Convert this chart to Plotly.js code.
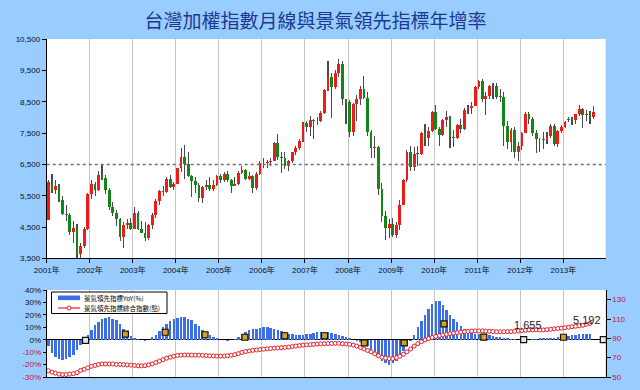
<!DOCTYPE html>
<html><head><meta charset="utf-8">
<script src="https://cdn.plot.ly/plotly-3.0.1.min.js"></script>
<style>html,body{margin:0;padding:0;background:#99CCFF;}#chart{width:640px;height:390px;}</style>
</head><body><div id="chart"></div>
<script>
// ---------- DATA ----------
const startYear = 2001;
const yearLabels = ['2001年','2002年','2003年','2004年','2005年','2006年','2007年','2008年','2009年','2010年','2011年','2012年','2013年'];
const priceTicks = [3500,4500,5500,6500,7500,8500,9500,10500];
const rightTicks = [35,45,55,65,75,85,95,105];
const pctTicks = [-30,-20,-10,0,10,20,30,40];
const pctTickLabels = ['-30%','-20%','-10%','0%','10%','20%','30%','40%'];
const indexTicks = [50,70,90,110,130];
const thresholdLevel = 6500;
const seriesNames = ['景氣領先指標YoY(%)','景氣領先指標綜合指數(點)'];

const openPx = [
 4739,5936,5674,5797,5381,4935,4883,4352,4476,3636,3903,4441,
 5551,5872,5696,6167,6065,5675,5153,4940,4764,4191,4579,4646,
 4452,4941,4432,4321,4148,4555,4872,5318,5650,5611,6045,5771,
 5890,6375,6750,6522,6117,5977,5840,5420,5766,5845,5706,5844,
 6140,5994,6207,6006,5819,5866,6241,6312,6033,6119,5764,6203,
 6548,6532,6562,6613,7171,6730,6704,6455,6611,6883,7021,7247,
 7823,7699,7901,7884,7875,8145,8883,9287,8982,9411,9711,8586,
 8506,7521,8412,8572,8920,8620,7523,7024,7046,5719,4870,4460,
 4591,4248,4557,5211,5993,6890,6432,6829,6826,7509,7340,7582,
 8188,7640,7436,7920,8004,7374,7329,7761,7616,8238,8287,8372,
 8973,9145,8600,8683,9008,8988,8653,8644,7741,7225,7588,6904,
 7072,7517,8121,7933,7501,7301,7296,7270,7398,7715,7166,7580,
 7700,7950,7970,7919,8094,8254,8062,8108,7999];
const highPx = [
 6000,6210,6000,5860,5500,5200,4950,4700,4600,4000,4500,5600,
 6000,5950,6300,6484,6150,5750,5300,5050,4800,4650,4750,4800,
 5140,5000,4700,4650,4600,4950,5400,5700,5800,6100,6150,5950,
 6400,7035,7135,6900,6150,6100,5900,5800,6000,6100,6000,6150,
 6200,6250,6300,6050,6100,6300,6450,6350,6250,6150,6250,6600,
 6700,6650,6700,7200,7474,6900,6900,6650,6900,7100,7300,7850,
 7900,8030,7950,8000,8200,8900,9807,9400,9500,9859,9800,8600,
 8550,8450,8700,9000,9309,8800,7600,7400,7100,5900,5000,4750,
 4800,4650,5350,6050,6950,7085,7050,7100,7550,7800,7700,8200,
 8395,7700,7950,8190,8050,7600,7800,7950,8300,8400,8500,9000,
 9200,9220,8800,9040,9090,9100,8900,8800,7900,7650,7700,7200,
 7550,8170,8170,8000,7600,7350,7550,7550,7800,7800,7600,7750,
 7900,8000,8000,8100,8400,8300,8250,8200,8350];
const lowPx = [
 4720,5600,5550,5300,4900,4700,4250,4000,3411,3446,3850,4400,
 5400,5500,5650,6000,5550,5050,4850,4550,4050,3845,4450,4400,
 4430,4400,4300,4044,4100,4450,4800,5200,5500,5600,5750,5700,
 5880,6250,6020,6100,5450,5600,5300,5255,5700,5650,5650,5800,
 5900,5950,5950,5600,5800,5850,6200,6000,6000,5600,5700,6150,
 6400,6400,6450,6600,6650,6232,6350,6300,6550,6800,6950,7200,
 7550,7400,7300,7750,7850,8100,8850,7987,8900,9300,8400,7800,
 7384,7400,7900,8400,8600,7400,6700,6700,5530,4650,4089,4150,
 4200,4164,4400,5200,5950,6300,6300,6450,6800,7100,7100,7550,
 7600,7080,7400,7700,7030,7070,7300,7500,7600,8100,8100,8350,
 8900,8500,8070,8600,8600,8600,8500,7100,7000,6900,6700,6609,
 6960,7500,7800,7400,6860,6900,7000,7150,7350,7100,7050,7500,
 7650,7850,7760,7800,8050,7650,7900,7800,7950];
const closePx = [
 5936,5674,5797,5381,4935,4883,4352,4476,3636,3903,4441,5551,
 5872,5696,6167,6065,5675,5153,4940,4764,4191,4579,4646,4452,
 4941,4432,4321,4148,4555,4872,5318,5650,5611,6045,5771,5890,
 6375,6750,6522,6117,5977,5840,5420,5766,5845,5706,5844,6140,
 5994,6207,6006,5819,5866,6241,6312,6033,6119,5764,6203,6548,
 6532,6562,6613,7171,6730,6704,6455,6611,6883,7021,7247,7823,
 7699,7901,7884,7875,8145,8883,9287,8982,9411,9711,8586,8506,
 7521,8412,8572,8920,8620,7523,7024,7046,5719,4870,4460,4591,
 4248,4557,5211,5993,6890,6432,6829,6826,7509,7340,7582,8188,
 7640,7436,7920,8004,7374,7329,7761,7616,8238,8287,8372,8973,
 9145,8600,8683,9008,8988,8653,8644,7741,7225,7588,6904,7072,
 7517,8121,7933,7501,7301,7296,7270,7398,7715,7166,7580,7700,
 7850,7907,7919,8094,8254,8062,8108,7999,8174];

// 景氣領先指標 YoY (%), Jan 2001 - Aug 2013
const leadYoY = [
 -5,-11,-14,-15.5,-16,-15.5,-14,-12,-8,-4,-1,4,
 8,12,14,16.5,17.5,18,17,15.5,13,9,5,3,
 1.5,0.5,-0.5,-1,-0.5,2,4,7,10,13,15,16.5,
 17.5,18,18,17,15.5,13,11,8,6,4,2,1,
 0,-0.5,-1,-0.5,0.5,2,4,6,7.5,8.5,9,9.5,
 10,10,9.5,9,8,7,6,5,4.5,4,4,4,
 4.5,5,5.5,6,6.5,6.5,6,5.5,5,4,3,2,
 1,0,-1,-2,-3,-5,-8,-11,-14,-17,-19,-20,
 -19,-17,-13,-9,-5,-1,4,10,15,20,25,29,
 31.5,31,28,24,20,17,14,11,9,7,6,5,
 5,4.5,4,3.5,3,2.5,2,1.5,1,0.5,0.3,0,
 0,0,0,0.5,0.5,1,1,1,1.5,1.5,2,2.5,
 3,3,3.5,4,4.5,5,5,5];
// 景氣領先指標綜合指數 (點), Jan 2001 - Aug 2013
const leadIndex = [
 56.5,55,54,53,52.5,52.5,53,53.5,54.5,56.8,58,59.5,
 61,62,63,63.5,63.5,63.5,63.5,63,63,62.8,62.5,62.3,
 62,61.6,61.5,61.8,62.5,63.5,65,66.5,68,69.5,70.5,71.5,
 72.3,72.6,72.8,72.8,72.7,72.6,72.6,72.4,72.2,72,71.8,71.6,
 71.6,71.7,72,72.5,73.2,74.2,75.4,76.3,77,77.6,78,78.4,
 78.8,79.2,79.5,79.8,80,80.3,80.6,81,81.5,82,82.5,83,
 83.2,83.5,83.8,84.1,84.3,84.5,84.6,84.7,84.8,84.8,84.5,84.2,
 83.8,83,82,80.5,79,77.5,76,74,72,70.5,69.5,69,
 69,70,71.5,73.5,76,79,82,84.5,86.5,88.3,89.8,91,
 92,92.8,93.5,94.2,94.8,95.4,95.9,96.4,96.8,97.2,97.5,97.7,
 97.7,97.7,97.5,97.3,97.1,96.9,96.8,96.8,96.9,97,97.2,97.6,
 98,98.4,98.7,98.8,98.8,98.7,98.7,99,99.4,99.8,100.2,100.5,
 101,101.5,102,102.5,103,103.5,104.5,105.5];
// small marker series (values in %)
const markerVals = [-4.6,-0.5,4.5,6,4,2,3.2,3.2,-2.6,-2.6,12.8,2.1,0,2,0];
const noteTexts = ['1,655','5,192'];
const noteIdx = [12.1,13.6];
const noteVals = [12,15.5];

// ---------- BUILD ----------
const DAY = 86400000;
const dates = closePx.map((_, i) => {
  const y = startYear + Math.floor(i / 12), m = i % 12 + 1;
  return y + '-' + String(m).padStart(2, '0') + '-15';
});
const yearTicks = yearLabels.map((_, i) => (startYear + i) + '-01-01');
const leadDates = dates.slice(0, leadYoY.length);
const BLUE = '#3C6EEA', RED = '#E3202A';

const wick = {type:'bar', x:dates, base:lowPx, y:highPx.map((h,i)=>h-lowPx[i]),
  width:9*DAY, marker:{color:'#4a4a4a', line:{width:0}}, xaxis:'x', yaxis:'y',
  showlegend:false, hoverinfo:'skip'};
const body = {type:'bar', x:dates,
  base:openPx.map((o,i)=>Math.min(o,closePx[i])),
  y:openPx.map((o,i)=>Math.max(Math.abs(closePx[i]-o),25)),
  width:23*DAY, marker:{color:openPx.map((o,i)=>closePx[i]>=o?'#EE1B1B':'#13861A'), line:{width:0}},
  xaxis:'x', yaxis:'y', showlegend:false, hoverinfo:'skip'};
const yoy = {type:'bar', x:leadDates, y:leadYoY, width:21*DAY, name:seriesNames[0],
  marker:{color:BLUE, line:{width:0}}, xaxis:'x2', yaxis:'y3', showlegend:false};
const idx = {type:'scatter', mode:'lines+markers', x:leadDates, y:leadIndex, name:seriesNames[1],
  line:{color:RED, width:1.2}, marker:{symbol:'circle', size:4, color:'#FFFFFF', line:{color:RED, width:1}},
  xaxis:'x2', yaxis:'y4', showlegend:false};
const darkSet = [1,12,14];
const marks = {type:'scatter', mode:'markers', x:markerVals.map((_,k)=>k), y:markerVals,
  marker:{symbol:'square', size:6, color:markerVals.map((_,k)=>darkSet.includes(k)?'#E8E8E8':'#D9A21E'),
    line:{color:'#111', width:1.2}}, xaxis:'x3', yaxis:'y3', showlegend:false, cliponaxis:false, hoverinfo:'skip'};

const px = v => v / 640, py = v => 1 - v / 390;
const xDom = [0.073, 0.9464];
const axLine = {showline:true, linecolor:'#000', linewidth:1, zeroline:false, showgrid:false, ticks:'outside', tickcolor:'#000'};

// custom compact legend (box + swatches + labels)
const row1 = 297.8, row2 = 308;
const legendShapes = [
  {type:'rect', xref:'paper', yref:'paper', x0:px(51.5), x1:px(167), y0:py(313.5), y1:py(292),
   fillcolor:'#FFFFFF', line:{color:'#000', width:1}},
  {type:'rect', xref:'paper', yref:'paper', x0:px(58), x1:px(80), y0:py(row1+2.3), y1:py(row1-2.3),
   fillcolor:BLUE, line:{width:0}},
  {type:'line', xref:'paper', yref:'paper', x0:px(58), x1:px(80), y0:py(row2), y1:py(row2),
   line:{color:RED, width:1.2}},
  {type:'circle', xref:'paper', yref:'paper', x0:px(67), x1:px(71), y0:py(row2+2), y1:py(row2-2),
   fillcolor:'#FFFFFF', line:{color:RED, width:1}}
];
const legendNotes = seriesNames.map((t,i)=>({text:t, xref:'paper', yref:'paper', x:px(81.5), y:py(i===0?row1:row2),
  xanchor:'left', yanchor:'middle', showarrow:false, font:{size:6.5, color:'#000', family:'Noto Sans CJK TC, sans-serif'}}));

const layout = {
  width:640, height:390, margin:{l:0,r:0,t:0,b:0},
  paper_bgcolor:'#99CCFF', plot_bgcolor:'#FFFFFF',
  barmode:'overlay', bargap:0, showlegend:false,
  font:{family:'Liberation Sans, Noto Sans CJK TC, sans-serif', size:8, color:'#111'},
  title:{text:'台灣加權指數月線與景氣領先指標年增率', x:0.493, xanchor:'center', xref:'paper', y:0.946, yref:'paper', yanchor:'middle',
    font:{family:'Noto Sans CJK TC, sans-serif', size:19, color:'#1B3993'}},
  xaxis:Object.assign({}, axLine, {domain:xDom, type:'date', range:['2001-01-01','2013-12-26'], anchor:'y',
    tickvals:yearTicks, ticktext:yearLabels, showgrid:true, gridcolor:'#C6C6C6', ticklen:4, tickfont:{size:8}}),
  yaxis:Object.assign({}, axLine, {domain:[0.3372,0.9], range:[3500,10500], anchor:'x',
    tickvals:priceTicks, tickformat:',', ticklen:4, tickfont:{size:8}}),
  yaxis2:Object.assign({}, axLine, {overlaying:'y', side:'right', anchor:'x', range:[35,105],
    tickvals:rightTicks, ticklen:4, tickfont:{size:8}}),
  xaxis2:Object.assign({}, axLine, {domain:xDom, type:'date', matches:'x', anchor:'y3',
    tickvals:yearTicks, showticklabels:false, ticks:'', showgrid:true, gridcolor:'#C6C6C6'}),
  yaxis3:Object.assign({}, axLine, {domain:[0.0333,0.2564], anchor:'x2', range:[-30,40],
    tickvals:pctTicks, ticktext:pctTickLabels.map((t,i)=>pctTicks[i]<0?'<span style="color:#C8103A">'+t+'</span>':t),
    zeroline:true, zerolinecolor:'#000', zerolinewidth:1, ticklen:3, tickfont:{size:8}}),
  yaxis4:Object.assign({}, axLine, {overlaying:'y3', side:'right', anchor:'x2', range:[50,140],
    tickvals:indexTicks, ticklen:4, tickfont:{size:8, color:'#C8103A'}}),
  xaxis3:{overlaying:'x2', anchor:'y3', range:[0.025,14.06], visible:false},
  shapes:[{type:'line', xref:'x domain', x0:0, x1:1, yref:'y', y0:thresholdLevel, y1:thresholdLevel,
    line:{color:'#707070', width:1.5, dash:'3px,3px'}}].concat(legendShapes),
  annotations:noteTexts.map((t,i)=>({text:t, xref:'x3', yref:'y3', x:noteIdx[i], y:noteVals[i], showarrow:false,
    font:{size:11, color:'#222', family:'Liberation Sans, sans-serif'}})).concat(legendNotes)
};
Plotly.newPlot('chart', [wick, body, yoy, idx, marks], layout, {displayModeBar:false, staticPlot:true});
</script></body></html>
